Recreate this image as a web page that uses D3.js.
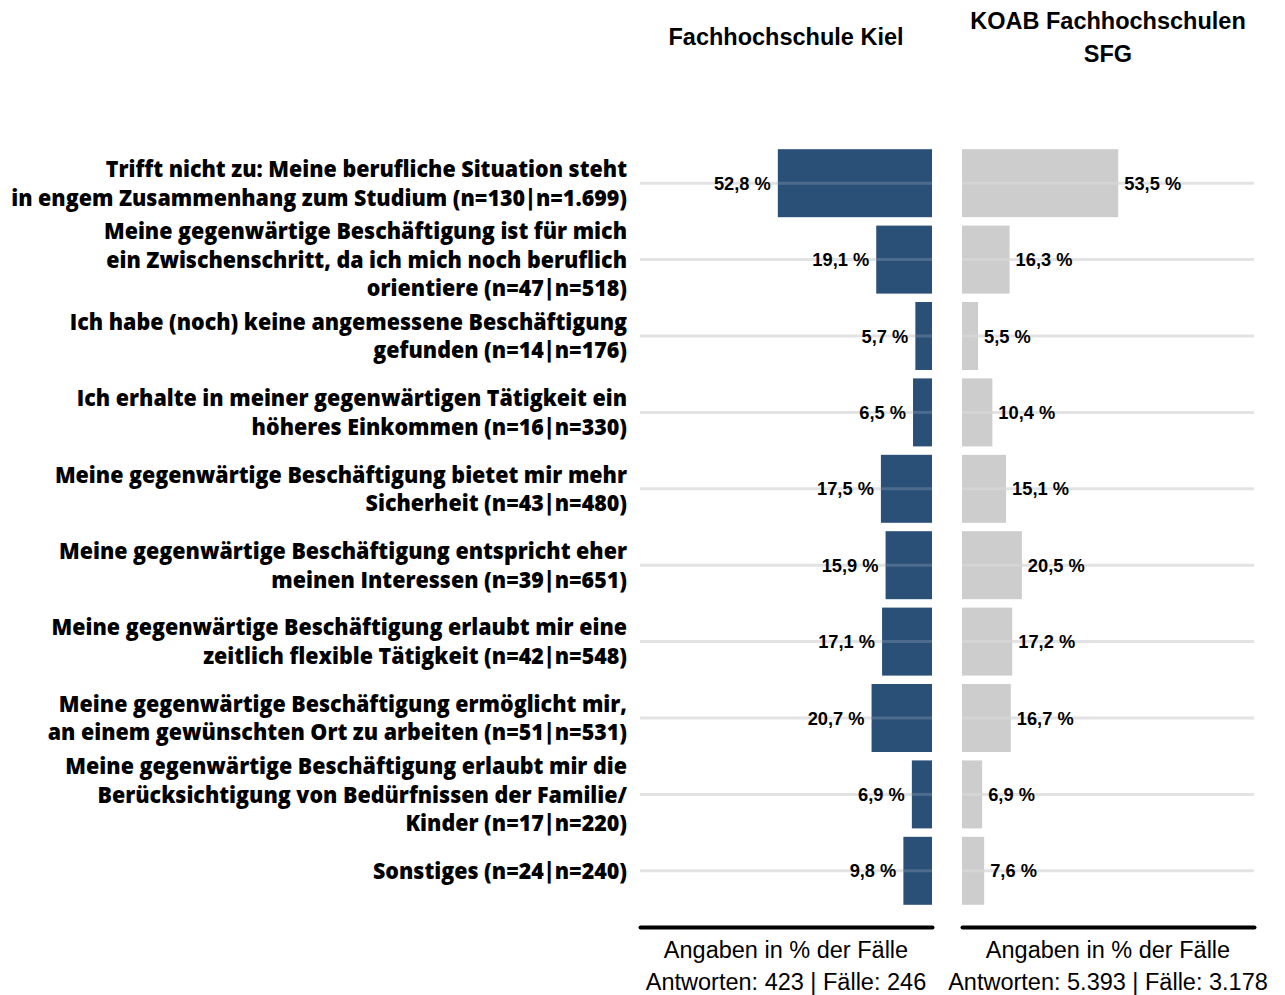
<!DOCTYPE html>
<html><head><meta charset="utf-8">
<script src="https://cdn.jsdelivr.net/npm/d3@7"></script>
<style>
html,body{margin:0;padding:0;background:#fff;}
svg{display:block;}
</style></head>
<body>
<svg id="chart" width="1285" height="995"></svg>
<script>
const categories = [
  ["Trifft nicht zu: Meine berufliche Situation steht", "in engem Zusammenhang zum Studium (n=130|n=1.699)"],
  ["Meine gegenwärtige Beschäftigung ist für mich", "ein Zwischenschritt, da ich mich noch beruflich", "orientiere (n=47|n=518)"],
  ["Ich habe (noch) keine angemessene Beschäftigung", "gefunden (n=14|n=176)"],
  ["Ich erhalte in meiner gegenwärtigen Tätigkeit ein", "höheres Einkommen (n=16|n=330)"],
  ["Meine gegenwärtige Beschäftigung bietet mir mehr", "Sicherheit (n=43|n=480)"],
  ["Meine gegenwärtige Beschäftigung entspricht eher", "meinen Interessen (n=39|n=651)"],
  ["Meine gegenwärtige Beschäftigung erlaubt mir eine", "zeitlich flexible Tätigkeit (n=42|n=548)"],
  ["Meine gegenwärtige Beschäftigung ermöglicht mir,", "an einem gewünschten Ort zu arbeiten (n=51|n=531)"],
  ["Meine gegenwärtige Beschäftigung erlaubt mir die", "Berücksichtigung von Bedürfnissen der Familie/", "Kinder (n=17|n=220)"],
  ["Sonstiges (n=24|n=240)"]
];
const kielValues = [52.8, 19.1, 5.7, 6.5, 17.5, 15.9, 17.1, 20.7, 6.9, 9.8];
const koabValues = [53.5, 16.3, 5.5, 10.4, 15.1, 20.5, 17.2, 16.7, 6.9, 7.6];
const panelTitles = [["Fachhochschule Kiel"], ["KOAB Fachhochschulen", "SFG"]];
const axisTitles = ["Angaben in % der Fälle", "Angaben in % der Fälle"];
const axisNotes = ["Antworten: 423 | Fälle: 246", "Antworten: 5.393 | Fälle: 3.178"];

const svg = d3.select("#chart");
const fmt = v => d3.format(".1f")(v).replace(".", ",") + " %";

const y = d3.scaleBand().domain(d3.range(categories.length)).range([145, 909])
  .paddingInner(0.11).paddingOuter(0.055);
const xL = d3.scaleLinear().domain([0, 100]).range([932, 640]);
const xR = d3.scaleLinear().domain([0, 100]).range([962, 1254]);

const gridColor = "#e3e3e3";

function grid(g, x0, x1) {
  g.selectAll("line").data(categories).join("line")
    .attr("x1", x0).attr("x2", x1)
    .attr("y1", (d, i) => y(i) + y.bandwidth() / 2)
    .attr("y2", (d, i) => y(i) + y.bandwidth() / 2)
    .attr("stroke", gridColor).attr("stroke-width", 3);
}
grid(svg.append("g"), 640, 932);
grid(svg.append("g"), 962, 1254);

svg.append("g").selectAll("rect").data(kielValues).join("rect")
  .attr("x", d => xL(d)).attr("width", d => xL(0) - xL(d))
  .attr("y", (d, i) => y(i)).attr("height", y.bandwidth())
  .attr("fill", "#2b5078");
svg.append("g").selectAll("rect").data(koabValues).join("rect")
  .attr("x", xR(0)).attr("width", d => xR(d) - xR(0))
  .attr("y", (d, i) => y(i)).attr("height", y.bandwidth())
  .attr("fill", "#cdcdcd");

function overlay(vals, xs, left) {
  svg.append("g").selectAll("line").data(vals).join("line")
    .attr("x1", d => left ? xs(d) : xs(0)).attr("x2", d => left ? xs(0) : xs(d))
    .attr("y1", (d, i) => y(i) + y.bandwidth() / 2)
    .attr("y2", (d, i) => y(i) + y.bandwidth() / 2)
    .attr("stroke", "#ffffff").attr("stroke-opacity", 0.16).attr("stroke-width", 3);
}
overlay(kielValues, xL, true);
overlay(koabValues, xR, false);

const valFont = "'Liberation Sans', Arial, sans-serif";
svg.append("g").selectAll("text").data(kielValues).join("text")
  .attr("x", d => xL(d) - 7).attr("y", (d, i) => y(i) + y.bandwidth() / 2)
  .attr("dy", "0.36em").attr("text-anchor", "end")
  .attr("font-family", valFont).attr("font-weight", "bold").attr("font-size", 18.3)
  .text(fmt);
svg.append("g").selectAll("text").data(koabValues).join("text")
  .attr("x", d => xR(d) + 6).attr("y", (d, i) => y(i) + y.bandwidth() / 2)
  .attr("dy", "0.36em").attr("text-anchor", "start")
  .attr("font-family", valFont).attr("font-weight", "bold").attr("font-size", 18.3)
  .text(fmt);

const catFont = "'Open Sans', sans-serif";
const catSize = 22.5;
const catWeight = 800;
const probe = svg.append("text").attr("font-family", catFont).attr("font-weight", catWeight)
  .attr("font-size", catSize).text(categories[0][1]);
const k = 616 / probe.node().getComputedTextLength();
probe.remove();
const lineH = 28.5;
const catG = svg.append("g");
categories.forEach((lines, i) => {
  const cy = y(i) + y.bandwidth() / 2;
  const n = lines.length;
  lines.forEach((ln, j) => {
    const ly = cy + (j - (n - 1) / 2) * lineH;
    catG.append("text")
      .attr("transform", `translate(627,${ly}) scale(${k},1)`)
      .attr("dy", "0.36em").attr("text-anchor", "end")
      .attr("font-family", catFont).attr("font-weight", catWeight).attr("font-size", catSize)
      .attr("fill", "#000").text(ln);
  });
});

const centers = [(640 + 932) / 2, (962 + 1254) / 2];
panelTitles.forEach((lines, p) => {
  const n = lines.length;
  lines.forEach((ln, j) => {
    svg.append("text").attr("x", centers[p])
      .attr("y", 37 + (j - (n - 1) / 2) * 33).attr("dy", "0.36em")
      .attr("text-anchor", "middle").attr("font-family", valFont)
      .attr("font-weight", "bold").attr("font-size", 23.5).text(ln);
  });
});

const axes = [[xL, 640, 932], [xR, 962, 1254]];
axes.forEach(([sc, a, b], p) => {
  const g = svg.append("g").attr("transform", "translate(0,927)");
  const ax = d3.axisBottom(sc).tickValues([]).tickSizeOuter(0);
  g.call(ax);
  g.select(".domain").attr("stroke", "#000").attr("stroke-width", 4)
    .attr("stroke-linecap", "round");
  svg.append("text").attr("x", centers[p]).attr("y", 950).attr("dy", "0.36em")
    .attr("text-anchor", "middle").attr("font-family", valFont)
    .attr("font-size", 23.5).text(axisTitles[p]);
  svg.append("text").attr("x", centers[p]).attr("y", 982).attr("dy", "0.36em")
    .attr("text-anchor", "middle").attr("font-family", valFont)
    .attr("font-size", 23.5).text(axisNotes[p]);
});
</script>
</body></html>
